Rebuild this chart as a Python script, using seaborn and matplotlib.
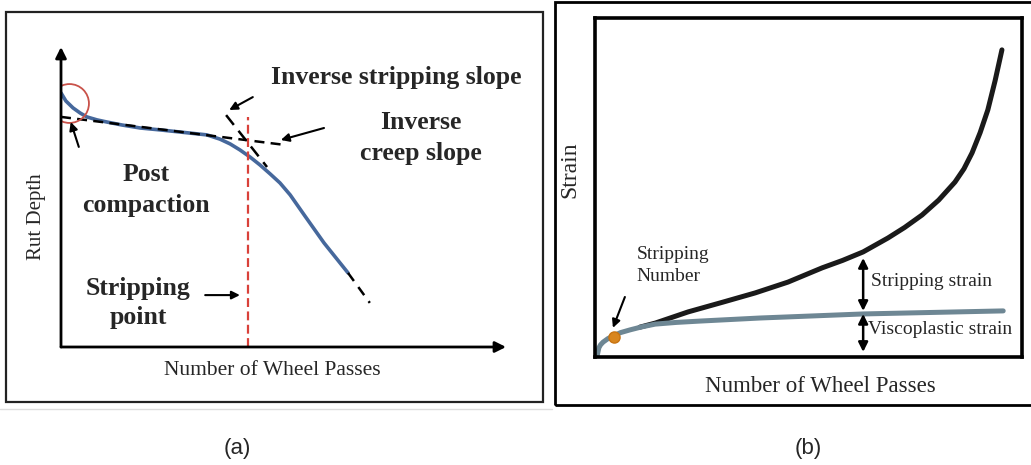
import numpy as np
import pandas as pd
import matplotlib
matplotlib.use('Agg')
import matplotlib.pyplot as plt
from matplotlib.patches import Rectangle
from matplotlib.lines import Line2D
import seaborn as sns

# panel (a): rut depth vs wheel passes (schematic units 0-100)
rut_passes = [0, 1.1, 2.7, 4.3, 5.8, 8.1, 10.3, 13.7, 17.8, 22.7, 29.0, 32.8,
              35.7, 38.0, 40.2, 42.5, 44.7, 47.0, 49.2, 51.5, 54.8, 59.1, 64.5]
rut_depth = [84.7, 82.0, 79.7, 78.0, 76.7, 75.7, 75.0, 74.0, 73.0, 72.3, 71.3, 70.7,
             69.3, 67.7, 65.7, 63.3, 60.7, 57.7, 54.7, 50.7, 43.7, 34.7, 24.7]
tail_passes = [64.5, 69.4]
tail_depth = [24.7, 14.7]
creep_passes = [0, 50.6]
creep_depth = [76.7, 67.3]
strip_passes = [37.1, 46.3]
strip_depth = [77.3, 60.0]
stripping_point = 42.0

# panel (b): strain vs wheel passes
visco_passes = [0.5, 0.7, 0.9, 1.3, 1.9, 3.0, 4.2, 6.0, 8.2, 11.0, 14.1, 19.0,
                24.6, 38.6, 62.8, 95.6]
visco_strain = [0.3, 1.5, 2.7, 3.6, 4.4, 5.4, 6.2, 7.2, 8.0, 8.9, 9.7, 10.2,
                10.6, 11.5, 12.7, 13.6]
total_passes = [10.5, 14.1, 21.8, 30.0, 37.5, 45.2, 53.2, 58.0, 62.8, 68.6, 72.5,
                76.6, 80.5, 84.3, 86.4, 88.3, 90.2, 92.0, 93.7, 95.3]
total_strain = [8.8, 10.0, 13.3, 16.2, 18.9, 22.1, 26.3, 28.5, 31.0, 35.1, 38.2,
                41.9, 46.3, 51.6, 55.5, 60.2, 66.2, 72.9, 81.5, 90.6]
sn_pass, sn_strain = 4.4, 5.9
split_pass = 62.8

sns.set_theme(style='white')
plt.rcParams['font.family'] = ['Liberation Serif', 'DejaVu Serif']

W, H = 1031, 465
fig = plt.figure(figsize=(W / 100, H / 100), dpi=100)

def box(x0, y0, x1, y1):
    return [x0 / W, 1 - y1 / H, (x1 - x0) / W, (y1 - y0) / H]

# outer frames
fig.add_artist(Rectangle((6 / W, 1 - 402 / H), 537 / W, 390 / H, transform=fig.transFigure,
                         fill=False, lw=1.6, ec='#222222'))
fig.add_artist(Line2D([0, 552 / W], [1 - 409 / H] * 2, transform=fig.transFigure,
                      lw=1, color='#dddddd'))
fig.add_artist(Rectangle((555 / W, 1 - 405 / H), 480 / W, 403 / H, transform=fig.transFigure,
                         fill=False, lw=2, ec='black'))

# ---------------- panel (a)
ax = fig.add_axes(box(61, 47, 506, 347))
ax.set_xlim(0, 100)
ax.set_ylim(0, 100)
ax.axis('off')
blue = '#46689c'
sns.lineplot(x=rut_passes, y=rut_depth, sort=False, estimator=None, color=blue, lw=2.6, ax=ax)
ax.plot(tail_passes, tail_depth, color='black', lw=1.8, ls=(0, (4, 3)))
ax.plot(creep_passes, creep_depth, color='black', lw=1.8, ls=(0, (4, 2.5)))
ax.plot(strip_passes, strip_depth, color='black', lw=1.8, ls=(0, (5, 3)))
ax.plot([stripping_point, stripping_point], [0, 76.7], color='#d9413a', lw=1.6, ls=(0, (4, 2)))
ax.plot([1.9], [81.2], marker='o', ms=28, mfc='none', mec='#c9524a', mew=1.3)

axis_arrow = dict(arrowstyle='-|>', lw=2, color='black', mutation_scale=16, shrinkA=0, shrinkB=0)
ax.annotate('', xy=(0, 100), xytext=(0, 0), arrowprops=axis_arrow, annotation_clip=False)
ax.annotate('', xy=(100, 0), xytext=(0, 0), arrowprops=axis_arrow, annotation_clip=False)

small_arrow = dict(arrowstyle='-|>', lw=1.5, color='black', mutation_scale=12, shrinkA=0, shrinkB=0)
ax.annotate('', xy=(2.2, 75), xytext=(4.0, 66.7), arrowprops=small_arrow)
ax.annotate('', xy=(37.8, 79), xytext=(43.1, 83.3), arrowprops=small_arrow)
ax.annotate('', xy=(49.4, 69), xytext=(59.1, 73), arrowprops=small_arrow)
ax.annotate('', xy=(40.2, 17.3), xytext=(32.4, 17.3), arrowprops=small_arrow)

bold = dict(fontsize=18.5, fontweight='bold', ha='center', va='center', clip_on=False)
ax.text(75.3, 90, 'Inverse stripping slope', **bold)
ax.text(80.9, 69.7, 'Inverse\ncreep slope', linespacing=1.42, **bold)
ax.text(19.1, 52.3, 'Post\ncompaction', linespacing=1.42, **bold)
ax.text(17.3, 14.7, 'Stripping\npoint', linespacing=1.35, **bold)
ax.text(-5.6, 43.3, 'Rut Depth', fontsize=15, rotation=90, ha='center', va='center')
ax.text(47.4, -7.7, 'Number of Wheel Passes', fontsize=15.5, ha='center', va='center')

# ---------------- panel (b)
bx = fig.add_axes(box(595, 18, 1022, 357))
bx.set_xlim(0, 100)
bx.set_ylim(0, 100)
bx.set_xticks([])
bx.set_yticks([])
for s in bx.spines.values():
    s.set_visible(True)
    s.set_color('black')
    s.set_linewidth(2.6)

sns.lineplot(x=total_passes, y=total_strain, sort=False, estimator=None, color='#1a1a1a',
             lw=3.6, ax=bx)
sns.lineplot(x=visco_passes, y=visco_strain, sort=False, estimator=None, color='#6e8794',
             lw=3.6, ax=bx)
bx.plot([sn_pass], [sn_strain], marker='o', ms=8, color='#d8861f', mec='#c87412')

bx.annotate('', xy=(4.2, 8.6), xytext=(7.0, 17.7), arrowprops=small_arrow)
dbl = dict(arrowstyle='<|-|>', lw=1.8, color='black', mutation_scale=14, shrinkA=0, shrinkB=0)
bx.annotate('', xy=(split_pass, 29.2), xytext=(split_pass, 13.6), arrowprops=dbl)
bx.annotate('', xy=(split_pass, 12.7), xytext=(split_pass, 1.5), arrowprops=dbl)

bx.text(9.8, 27, 'Stripping\nNumber', fontsize=14, ha='left', va='center', linespacing=1.4)
bx.text(64.6, 22.4, 'Stripping strain', fontsize=14, ha='left', va='center')
bx.text(63.9, 8.0, 'Viscoplastic strain', fontsize=14, ha='left', va='center')
bx.text(-5.9, 55.2, 'Strain', fontsize=17, rotation=90, ha='center', va='center', clip_on=False)
bx.text(52.7, -8.8, 'Number of Wheel Passes', fontsize=16.5, ha='center', va='center', clip_on=False)

fig.text(237 / W, 1 - 448 / H, '(a)', fontsize=16, family='Liberation Sans', ha='center', va='center')
fig.text(808 / W, 1 - 448 / H, '(b)', fontsize=16, family='Liberation Sans', ha='center', va='center')

fig.savefig('out.png', dpi=100, facecolor='white')
